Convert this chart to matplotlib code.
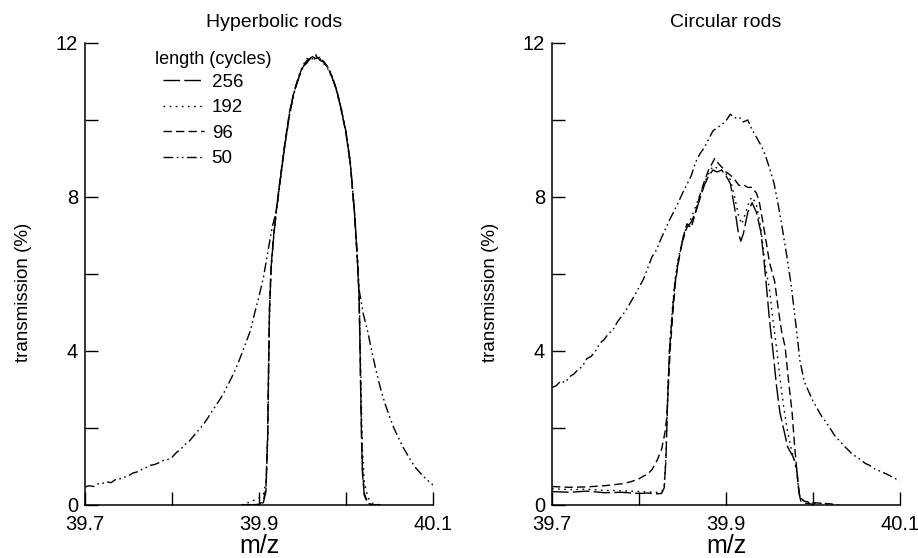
import matplotlib
matplotlib.use("Agg")
import matplotlib.pyplot as plt
from matplotlib.ticker import FixedLocator

plt.rcParams['font.family'] = ['Liberation Sans', 'DejaVu Sans']

# shared sampling of the broad (50 cycle) scans
wide_mz = [39.700, 39.705, 39.710, 39.715, 39.720, 39.725, 39.730, 39.735, 39.740, 39.745,
           39.750, 39.755, 39.760, 39.765, 39.770, 39.775, 39.780, 39.785, 39.790, 39.795,
           39.800, 39.805, 39.810, 39.815, 39.820, 39.825, 39.830, 39.835, 39.840, 39.845,
           39.850, 39.855, 39.860, 39.865, 39.870, 39.875, 39.880, 39.885, 39.890, 39.895,
           39.900, 39.905, 39.910, 39.915, 39.920, 39.925, 39.930, 39.935, 39.940, 39.945,
           39.950, 39.955, 39.960, 39.965, 39.970, 39.975, 39.980, 39.985, 39.990, 39.995,
           40.000, 40.005, 40.010, 40.015, 40.020, 40.025, 40.030, 40.035, 40.040, 40.045,
           40.050, 40.055, 40.060, 40.065, 40.070, 40.075, 40.080, 40.085, 40.090, 40.095,
           40.100]

# Hyperbolic rods
hyp_50 = [0.47, 0.50, 0.48, 0.55, 0.56, 0.60, 0.58, 0.66, 0.68, 0.72,
          0.76, 0.83, 0.86, 0.92, 0.97, 1.03, 1.05, 1.10, 1.16, 1.18,
          1.24, 1.36, 1.45, 1.57, 1.66, 1.80, 1.93, 2.06, 2.22, 2.40,
          2.57, 2.74, 2.93, 3.15, 3.38, 3.63, 3.92, 4.22, 4.52, 4.98,
          5.42, 5.90, 6.55, 7.20, 7.65, 8.55, 9.40, 10.15, 10.70, 11.05,
          11.35, 11.50, 11.62, 11.58, 11.63, 11.50, 11.35, 11.08, 10.72, 10.25,
          9.70, 8.90, 7.55, 5.60, 4.95, 4.50, 3.95, 3.45, 3.00, 2.62,
          2.30, 2.00, 1.76, 1.52, 1.33, 1.14, 0.97, 0.84, 0.72, 0.62,
          0.52]

hyp_mz = [39.880, 39.890, 39.900, 39.905, 39.908, 39.910, 39.911, 39.912, 39.914, 39.917,
          39.920, 39.925, 39.930, 39.935, 39.940, 39.945, 39.950, 39.955, 39.960, 39.965,
          39.970, 39.975, 39.980, 39.985, 39.990, 39.995, 40.000, 40.005, 40.010, 40.013,
          40.015, 40.016, 40.017, 40.018, 40.019, 40.021, 40.025, 40.030, 40.040]
hyp_256 = [0.00, 0.00, 0.01, 0.06, 0.35, 1.80, 3.50, 5.00, 6.20, 7.00,
           7.65, 8.55, 9.40, 10.15, 10.70, 11.05, 11.35, 11.55, 11.62, 11.68,
           11.55, 11.50, 11.32, 11.05, 10.70, 10.22, 9.65, 8.85, 7.50, 6.40,
           5.40, 4.20, 2.80, 1.60, 0.80, 0.25, 0.05, 0.00, 0.00]
hyp_192 = [0.00, 0.08, 0.18, 0.28, 0.60, 1.60, 3.20, 4.80, 6.10, 7.00,
           7.60, 8.50, 9.35, 10.10, 10.65, 11.10, 11.40, 11.60, 11.55, 11.70,
           11.60, 11.45, 11.30, 11.02, 10.68, 10.25, 9.62, 8.82, 7.55, 6.50,
           5.60, 4.60, 3.40, 2.30, 1.40, 0.60, 0.20, 0.05, 0.00]
hyp_96 = [0.00, 0.00, 0.02, 0.10, 0.45, 1.90, 3.60, 5.10, 6.25, 7.05,
          7.70, 8.60, 9.45, 10.20, 10.72, 11.08, 11.38, 11.48, 11.66, 11.60,
          11.62, 11.48, 11.34, 11.06, 10.72, 10.20, 9.68, 8.88, 7.52, 6.45,
          5.45, 4.30, 2.90, 1.70, 0.90, 0.30, 0.06, 0.00, 0.00]

# Circular rods
circ_50 = [3.05, 3.10, 3.22, 3.18, 3.33, 3.40, 3.52, 3.60, 3.80, 3.86,
           4.00, 4.20, 4.30, 4.45, 4.55, 4.75, 4.90, 5.06, 5.25, 5.45,
           5.65, 5.86, 6.15, 6.45, 6.62, 6.90, 7.15, 7.40, 7.62, 7.85,
           8.10, 8.32, 8.55, 8.90, 9.12, 9.28, 9.50, 9.72, 9.80, 9.88,
           9.98, 10.15, 10.05, 10.08, 9.95, 10.00, 9.75, 9.55, 9.35, 9.10,
           8.75, 8.38, 7.80, 7.15, 6.45, 5.70, 4.75, 3.75, 3.20, 2.95,
           2.70, 2.50, 2.30, 2.15, 1.98, 1.80, 1.68, 1.55, 1.44, 1.32,
           1.25, 1.17, 1.08, 1.03, 0.95, 0.90, 0.85, 0.80, 0.74, 0.68,
           0.65]

circ_mz_256 = [39.700, 39.720, 39.740, 39.760, 39.780, 39.800, 39.810, 39.820, 39.826, 39.829,
               39.831, 39.833, 39.835, 39.838, 39.841, 39.845, 39.850, 39.855, 39.860, 39.865,
               39.870, 39.875, 39.880, 39.885, 39.890, 39.895, 39.900, 39.905, 39.910, 39.914,
               39.917, 39.920, 39.925, 39.930, 39.935, 39.940, 39.943, 39.946, 39.950, 39.954,
               39.958, 39.962, 39.966, 39.971, 39.976, 39.980, 39.982, 39.984, 39.986, 39.990,
               40.000]
circ_256 = [0.35, 0.33, 0.36, 0.32, 0.33, 0.30, 0.31, 0.29, 0.30, 0.45,
            1.20, 2.80, 4.00, 4.90, 5.70, 6.30, 6.85, 7.20, 7.35, 7.60,
            7.95, 8.30, 8.55, 8.70, 8.65, 8.70, 8.55, 8.35, 7.70, 7.10,
            6.85, 7.05, 7.60, 7.85, 7.60, 7.10, 6.50, 5.80, 4.80, 4.00,
            3.10, 2.40, 2.00, 1.50, 1.30, 1.10, 0.80, 0.30, 0.10, 0.05,
            0.02]

circ_mz_192 = [39.700, 39.720, 39.740, 39.760, 39.780, 39.800, 39.820, 39.826, 39.829, 39.831,
               39.833, 39.835, 39.838, 39.841, 39.845, 39.850, 39.855, 39.860, 39.865, 39.870,
               39.875, 39.880, 39.885, 39.890, 39.895, 39.900, 39.905, 39.910, 39.914, 39.918,
               39.922, 39.927, 39.930, 39.935, 39.940, 39.943, 39.946, 39.950, 39.954, 39.958,
               39.962, 39.966, 39.970, 39.974, 39.978, 39.981, 39.983, 39.985, 39.990, 40.000,
               40.020]
circ_192 = [0.42, 0.40, 0.41, 0.38, 0.37, 0.35, 0.33, 0.34, 0.50, 1.30,
            2.90, 4.10, 5.00, 5.80, 6.40, 6.90, 7.25, 7.45, 7.75, 8.05,
            8.35, 8.60, 8.80, 8.75, 8.70, 8.60, 8.45, 8.00, 7.55, 7.30,
            7.55, 7.90, 8.00, 7.80, 7.20, 6.60, 6.10, 5.60, 4.80, 4.10,
            3.30, 2.60, 2.00, 1.55, 1.20, 0.90, 0.50, 0.20, 0.08, 0.05,
            0.03]

circ_mz_96 = [39.700, 39.720, 39.740, 39.760, 39.780, 39.790, 39.800, 39.805, 39.810, 39.815,
              39.821, 39.826, 39.830, 39.832, 39.834, 39.836, 39.839, 39.842, 39.846, 39.850,
              39.855, 39.860, 39.865, 39.870, 39.875, 39.880, 39.887, 39.892, 39.896, 39.900,
              39.905, 39.910, 39.915, 39.920, 39.925, 39.930, 39.935, 39.938, 39.942, 39.945,
              39.950, 39.956, 39.960, 39.964, 39.968, 39.972, 39.976, 39.979, 39.981, 39.983,
              39.985, 39.990, 40.000, 40.020, 40.030]
circ_96 = [0.48, 0.46, 0.47, 0.50, 0.55, 0.60, 0.68, 0.75, 0.80, 0.92,
           1.17, 1.45, 1.90, 2.30, 3.20, 4.10, 5.00, 5.80, 6.40, 6.90,
           7.30, 7.20, 7.60, 8.05, 8.40, 8.70, 9.00, 8.85, 8.76, 8.65,
           8.57, 8.45, 8.30, 8.32, 8.25, 8.25, 8.10, 7.90, 7.40, 7.00,
           6.30, 5.80, 5.10, 4.50, 4.10, 3.20, 2.40, 1.50, 1.00, 0.50,
           0.20, 0.10, 0.06, 0.03, 0.00]

lengths = ['256', '192', '96', '50']
styles = {'256': (0, (12, 3)),
          '192': (0, (1.2, 3.2)),
          '96': (0, (6, 3)),
          '50': (0, (7, 2.5, 1.2, 2.5, 1.2, 2.5))}

x_major = [39.7, 39.9, 40.1]
x_minor = [39.8, 40.0]
y_major = [0, 4, 8, 12]
y_minor = [2, 6, 10]

fig = plt.figure(figsize=(9.18, 5.58), dpi=100)
ax1 = fig.add_axes([85 / 918, 53 / 558, 348 / 918, 462 / 558])
ax2 = fig.add_axes([552 / 918, 53 / 558, 348 / 918, 462 / 558])


def style_axis(ax, title, title_x):
    ax.set_xlim(39.7, 40.1)
    ax.set_ylim(0, 12)
    ax.spines['top'].set_visible(False)
    ax.spines['right'].set_visible(False)
    for s in ['left', 'bottom']:
        ax.spines[s].set_linewidth(1.1)
    ax.xaxis.set_major_locator(FixedLocator(x_major))
    ax.xaxis.set_minor_locator(FixedLocator(x_minor))
    ax.yaxis.set_major_locator(FixedLocator(y_major))
    ax.yaxis.set_minor_locator(FixedLocator(y_minor))
    ax.set_xticklabels(['%.1f' % v for v in x_major])
    ax.set_yticklabels([str(v) for v in y_major])
    ax.tick_params(axis='both', which='both', direction='in', length=9.5, width=1.0,
                   labelsize=14.5)
    ax.tick_params(axis='x', which='major', pad=7)
    ax.tick_params(axis='y', which='major', pad=5)
    ax.set_xlabel('m/z', fontsize=18)
    ax.xaxis.set_label_coords(0.5, -0.062)
    ax.set_ylabel('transmission (%)', fontsize=13.5)
    ax.yaxis.set_label_coords(-0.152, 0.46)
    ax.text(title_x, 1.035, title, transform=ax.transAxes, ha='center', va='baseline',
            fontsize=14)


lw = 1.0
# hyperbolic
ax1.plot(hyp_mz, hyp_256, color='black', lw=lw, linestyle=styles['256'], label='256')
ax1.plot(hyp_mz, hyp_192, color='black', lw=lw, linestyle=styles['192'], label='192')
ax1.plot(hyp_mz, hyp_96, color='black', lw=lw, linestyle=styles['96'], label='96')
ax1.plot(wide_mz, hyp_50, color='black', lw=lw, linestyle=styles['50'], label='50')
style_axis(ax1, 'Hyperbolic rods', 0.543)

ax1.text(0.201, 0.965, 'length (cycles)', transform=ax1.transAxes, ha='left', va='center',
         fontsize=13)
ax1.legend(loc='upper left', bbox_to_anchor=(0.224, 0.934),
           frameon=False, fontsize=13.5, handlelength=2.2,
           handletextpad=0.4, labelspacing=0.45, borderaxespad=0, borderpad=0)

# circular
ax2.plot(circ_mz_256, circ_256, color='black', lw=lw, linestyle=styles['256'])
ax2.plot(circ_mz_192, circ_192, color='black', lw=lw, linestyle=styles['192'])
ax2.plot(circ_mz_96, circ_96, color='black', lw=lw, linestyle=styles['96'])
ax2.plot(wide_mz, circ_50, color='black', lw=lw, linestyle=styles['50'])
style_axis(ax2, 'Circular rods', 0.5)

fig.savefig('out.png', dpi=100)
